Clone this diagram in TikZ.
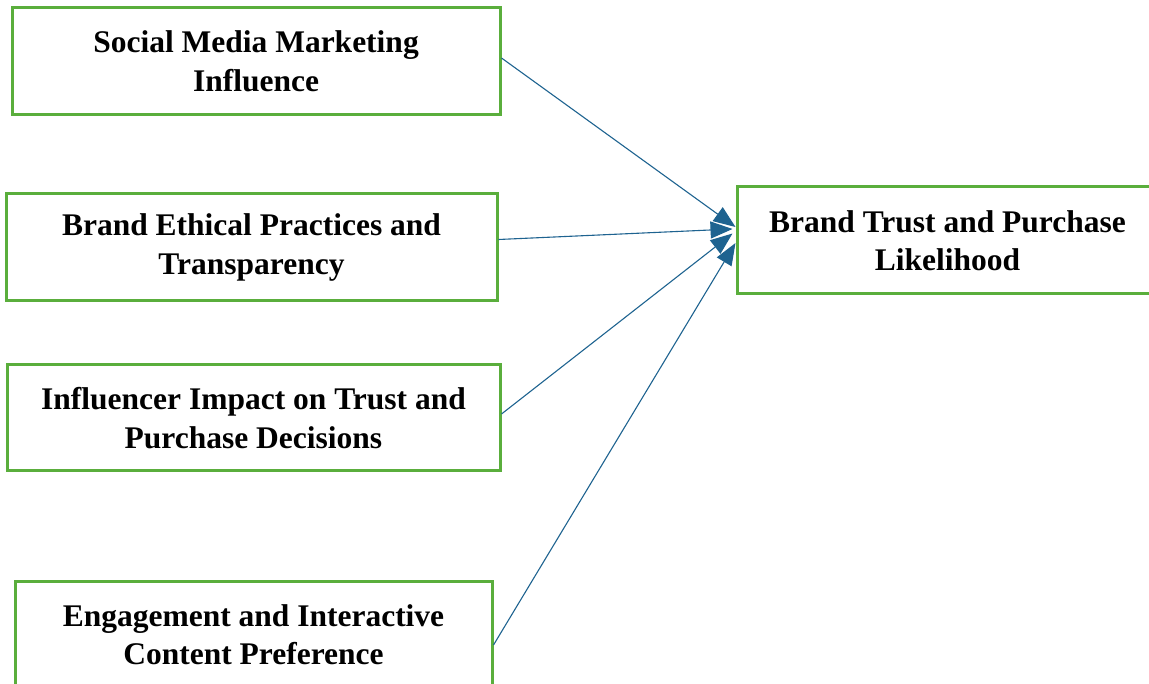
\documentclass[tikz,border=0pt]{standalone}
\usepackage{fontspec}
\setmainfont{Liberation Serif}
\usetikzlibrary{arrows.meta}
\definecolor{boxgreen}{HTML}{5AAE3C}
\definecolor{arrowblue}{HTML}{1E6390}
\begin{document}
\begin{tikzpicture}[x=1pt,y=-1pt,
  factor/.style={draw=boxgreen, line width=3pt, inner sep=0pt, align=center,
    font=\fontsize{31.5}{38.5}\selectfont\bfseries, text=black},
  link/.style={draw=arrowblue, line width=1.1pt, -{Triangle[length=22pt,width=17pt]}}]
\useasboundingbox (0,0) rectangle (1149,684);
\clip (0,0) rectangle (1149,684);
\node[factor, minimum width=488pt, minimum height=107pt] (b1) at (256,61.5) {Social Media Marketing\\Influence};
\node[factor, minimum width=491pt, minimum height=107pt] (b2) at (251.5,247.5) {Brand Ethical Practices and\\Transparency};
\node[factor, minimum width=493pt, minimum height=106pt] (b3) at (253.5,418) {Influencer Impact on Trust and\\Purchase Decisions};
\node[factor, minimum width=477pt, minimum height=107pt] (b4) at (253.5,634.5) {Engagement and Interactive\\Content Preference};
\node[factor, minimum width=421pt, minimum height=107pt] (b5) at (947.5,240.5) {Brand Trust and Purchase\\Likelihood};
\draw[link] ([yshift=3.5pt]b1.east) -- ([yshift=13.5pt]b5.west);
\draw[link] ([yshift=8pt]b2.east) -- ([xshift=-3pt,yshift=11.5pt]b5.west);
\draw[link] ([yshift=4pt]b3.east) -- ([xshift=-3pt,yshift=7pt]b5.west);
\draw[link] ([yshift=-10.5pt]b4.east) -- ([yshift=-2.5pt]b5.west);
\end{tikzpicture}
\end{document}
